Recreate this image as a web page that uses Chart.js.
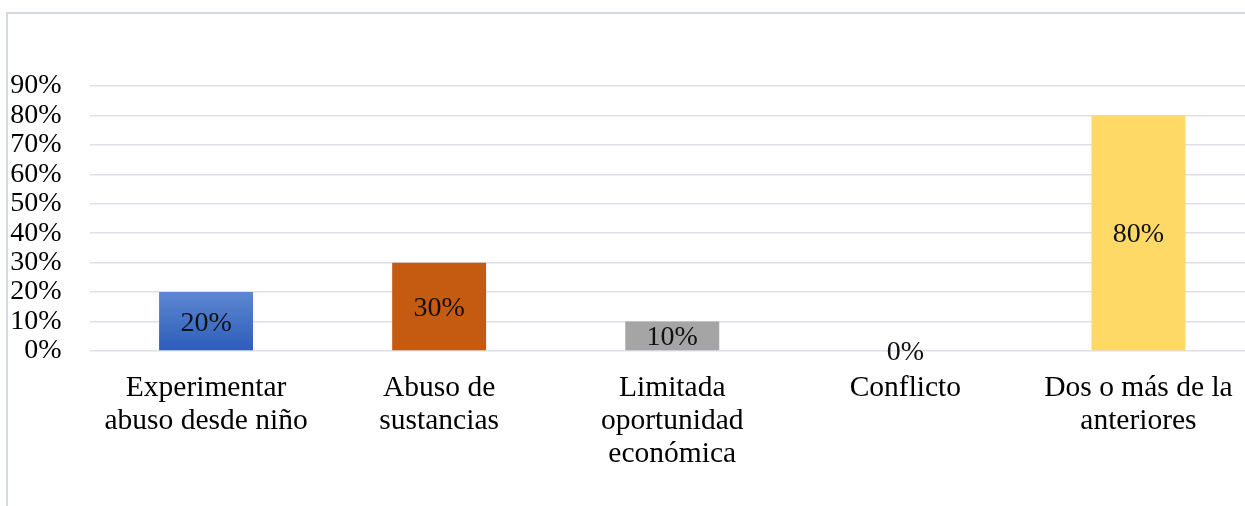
<!DOCTYPE html>
<html>
<head>
<meta charset="utf-8">
<script src="https://cdn.jsdelivr.net/npm/chart.js@4.4.1/dist/chart.umd.min.js"></script>
<style>
  html, body { margin: 0; padding: 0; background: #fff; overflow: hidden; }
  #wrap { position: absolute; left: 0; top: 0; width: 1262px; height: 506px; }
</style>
</head>
<body>
<div id="wrap"><canvas id="chart" width="1262" height="506"></canvas></div>
<script>
// datos del gráfico
const categorias = [
  ['Experimentar', 'abuso desde niño'],
  ['Abuso de', 'sustancias'],
  ['Limitada', 'oportunidad', 'económica'],
  ['Conflicto'],
  ['Dos o más de la', 'anteriores']
];
const valores = [20, 30, 10, 0, 80];
const colores = ['#3A6BC4', '#C55A11', '#A5A5A5', '#4472C4', '#FFD966'];
const ticksY = [0, 10, 20, 30, 40, 50, 60, 70, 80, 90];

const FUENTE = "'Liberation Serif', 'Times New Roman', serif";
Chart.defaults.font.family = FUENTE;
Chart.defaults.color = '#000000';

// marco gris alrededor del gráfico
const marco = {
  id: 'marco',
  beforeDraw(chart) {
    const c = chart.ctx;
    c.save();
    c.strokeStyle = '#D6DAE0';
    c.lineWidth = 2;
    c.strokeRect(7, 13, 1400, 800);
    c.restore();
  }
};

// etiquetas de valor en el centro de cada barra
const etiquetas = {
  id: 'etiquetas',
  afterDatasetsDraw(chart) {
    const c = chart.ctx;
    const meta = chart.getDatasetMeta(0);
    c.save();
    c.font = '28px ' + FUENTE;
    c.fillStyle = '#111111';
    c.textAlign = 'center';
    c.textBaseline = 'middle';
    meta.data.forEach((bar, i) => {
      const yMid = (bar.y + bar.base) / 2 + 2;
      c.fillText(valores[i] + '%', bar.x, yMid);
    });
    c.restore();
  }
};

new Chart(document.getElementById('chart'), {
  type: 'bar',
  data: {
    labels: categorias,
    datasets: [{
      data: valores,
      backgroundColor: (ctx) => {
        const chart = ctx.chart;
        if (ctx.dataIndex !== 0 || !chart.chartArea) return colores[ctx.dataIndex];
        const y = chart.scales.y;
        const g = chart.ctx.createLinearGradient(0, y.getPixelForValue(valores[0]), 0, y.getPixelForValue(0));
        g.addColorStop(0, '#5D87D1');
        g.addColorStop(1, '#2C5DB8');
        return g;
      },
      borderWidth: 0,
      barPercentage: 0.403,
      categoryPercentage: 1
    }]
  },
  options: {
    responsive: false,
    animation: false,
    layout: { padding: { top: 86, right: 7, left: 0, bottom: 0 } },
    plugins: {
      legend: { display: false },
      tooltip: { enabled: false }
    },
    scales: {
      x: {
        grid: { display: false },
        border: { display: false },
        ticks: {
          maxRotation: 0,
          autoSkip: false,
          padding: 13,
          font: { size: 29.5, lineHeight: 1.12 }
        },
        afterFit(scale) { scale.height = 155; }
      },
      y: {
        min: 0,
        max: 90,
        afterBuildTicks(scale) { scale.ticks = ticksY.map(v => ({ value: v })); },
        grid: { color: '#DDE0E5', lineWidth: 1.5, drawTicks: false },
        border: { display: false },
        ticks: {
          autoSkip: false,
          padding: 28,
          font: { size: 28 },
          callback: (v) => v + '%'
        },
        afterFit(scale) { scale.width = 89.5; }
      }
    }
  },
  plugins: [marco, etiquetas]
});
</script>
</body>
</html>
